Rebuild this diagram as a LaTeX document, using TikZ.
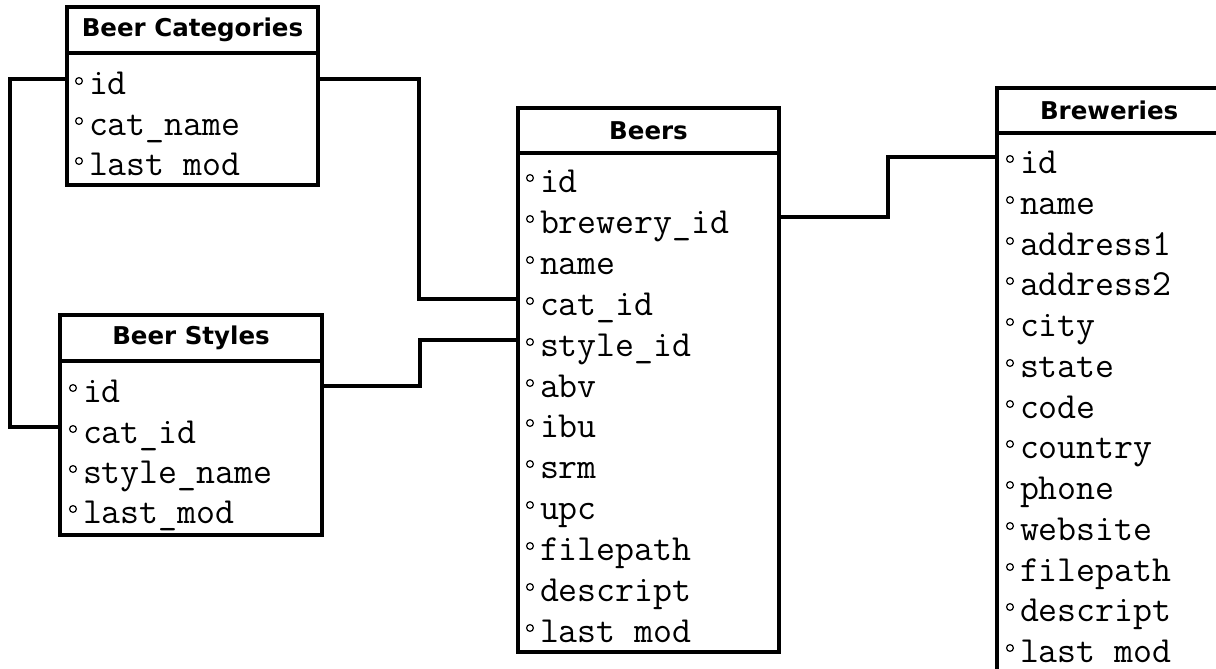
\documentclass[tikz,border=0pt]{standalone}
\usepackage{fontspec}
\newfontfamily\hdrfont{DejaVu Sans}
\usetikzlibrary{calc}
\newcommand\fld[4]{%
  \node[fldtext] (#1) at (#2,#3) {#4};
  \draw[dotmark] ($(#1.base west)+(-10,-14)$) circle[radius=3.4pt];}
\begin{document}
\begin{tikzpicture}[x=1pt,y=-1pt,
  tblhead/.style={draw, line width=4pt, anchor=north west, outer sep=0pt, inner sep=0pt,
    font=\hdrfont\bfseries\fontsize{24.5}{24.5}\selectfont},
  tblbody/.style={draw, line width=4pt, anchor=north west, outer sep=0pt, inner sep=0pt},
  fldtext/.style={anchor=base west, inner sep=0pt, outer sep=0pt, text height=32pt, text depth=0pt,
    font=\ttfamily\fontsize{36.8}{36.8}\selectfont},
  dotmark/.style={line width=1.2pt},
  link/.style={draw, line width=4pt}
]
\fill[white] (0,0) rectangle (1216,669);
\clip (0,0) rectangle (1216,669);

% Beer Categories
\node[tblhead, minimum width=251pt, minimum height=46pt] (bch) at (67,7) {Beer Categories};
\node[tblbody, minimum width=251pt, minimum height=132pt] (bc) at (67,53) {};
\fld{bc-id}{89}{95}{id}
\fld{bc-name}{89}{135}{cat\_name}
\fld{bc-mod}{89}{175}{last mod}

% Beer Styles
\node[tblhead, minimum width=262pt, minimum height=46pt] (bsh) at (60,315) {Beer Styles};
\node[tblbody, minimum width=262pt, minimum height=174pt] (bs) at (60,361) {};
\fld{bs-id}{83}{402}{id}
\fld{bs-catid}{83}{443}{cat\_id}
\fld{bs-name}{83}{483}{style\_name}
\fld{bs-mod}{83}{523}{last\_mod}

% Beers
\node[tblhead, minimum width=261pt, minimum height=45pt] (bh) at (518,108) {Beers};
\node[tblbody, minimum width=261pt, minimum height=499pt] (b) at (518,153) {};
\fld{b-id}{540}{192}{id}
\fld{b-brewid}{540}{233}{brewery\_id}
\fld{b-name}{540}{274}{name}
\fld{b-catid}{540}{315}{cat\_id}
\fld{b-styleid}{540}{356}{style\_id}
\fld{b-abv}{540}{397}{abv}
\fld{b-ibu}{540}{437}{ibu}
\fld{b-srm}{540}{478}{srm}
\fld{b-upc}{540}{519}{upc}
\fld{b-file}{540}{560}{filepath}
\fld{b-desc}{540}{601}{descript}
\fld{b-mod}{540}{642}{last mod}

% Breweries
\node[tblhead, minimum width=260pt, minimum height=45pt, text width=220pt, align=left] (brh) at (997,88) {\hspace*{23pt}Breweries};
\node[tblbody, minimum width=260pt, minimum height=600pt] (br) at (997,133) {};
\fld{br-id}{1020}{173}{id}
\fld{br-name}{1020}{214}{name}
\fld{br-addr1}{1020}{255}{address1}
\fld{br-addr2}{1020}{295}{address2}
\fld{br-city}{1020}{336}{city}
\fld{br-state}{1020}{377}{state}
\fld{br-code}{1020}{418}{code}
\fld{br-country}{1020}{458}{country}
\fld{br-phone}{1020}{499}{phone}
\fld{br-web}{1020}{540}{website}
\fld{br-file}{1020}{581}{filepath}
\fld{br-desc}{1020}{621}{descript}
\fld{br-mod}{1020}{662}{last mod}

% connectors
\path[link] (bc-id -| bc.west) -- ++(-57,0) |- (bs-catid -| bs.west);
\path[link] (bc-id -| bc.east) -- ++(101,0) |- (b-catid -| b.west);
\path[link] (bs-id -| bs.east) -- ++(98,0) |- (b-styleid -| b.west);
\path[link] (b-brewid -| b.east) -- ++(109,0) |- (br-id -| br.west);
\end{tikzpicture}
\end{document}
